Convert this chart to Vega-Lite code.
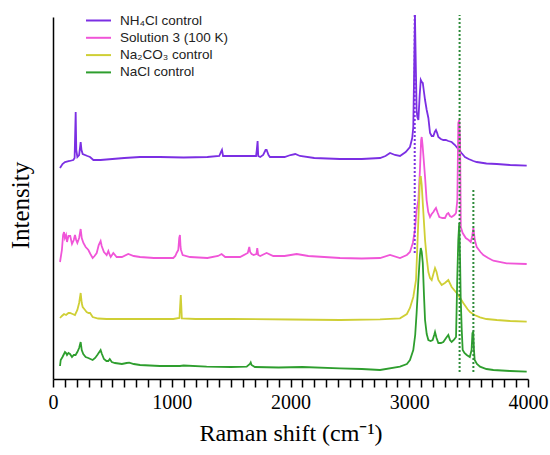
{
  "$schema": "https://vega.github.io/schema/vega-lite/v6.json",
  "width": 475,
  "height": 362,
  "autosize": {"type": "none"},
  "padding": {"left": 53, "top": 17, "right": 22, "bottom": 76},
  "background": "white",
  "config": {"view": {"stroke": null}, "font": "Liberation Serif", "axis": {"labelOverlap": false}},
  "datasets": {
    "spectra": [
      {"sample":"NH₄Cl control","shift":59,"intensity":211},{"sample":"NH₄Cl control","shift":80,"intensity":215},{"sample":"NH₄Cl control","shift":101,"intensity":217},{"sample":"NH₄Cl control","shift":140,"intensity":218},{"sample":"NH₄Cl control","shift":171,"intensity":219},{"sample":"NH₄Cl control","shift":182,"intensity":221},{"sample":"NH₄Cl control","shift":191,"intensity":267},{"sample":"NH₄Cl control","shift":196,"intensity":229},{"sample":"NH₄Cl control","shift":205,"intensity":222},{"sample":"NH₄Cl control","shift":220,"intensity":224},{"sample":"NH₄Cl control","shift":233,"intensity":237},{"sample":"NH₄Cl control","shift":240,"intensity":229},{"sample":"NH₄Cl control","shift":250,"intensity":225},{"sample":"NH₄Cl control","shift":290,"intensity":223},{"sample":"NH₄Cl control","shift":312,"intensity":222},{"sample":"NH₄Cl control","shift":340,"intensity":219},{"sample":"NH₄Cl control","shift":400,"intensity":219},{"sample":"NH₄Cl control","shift":500,"intensity":220},{"sample":"NH₄Cl control","shift":600,"intensity":221},{"sample":"NH₄Cl control","shift":733,"intensity":222},{"sample":"NH₄Cl control","shift":900,"intensity":222},{"sample":"NH₄Cl control","shift":1100,"intensity":221.5},{"sample":"NH₄Cl control","shift":1300,"intensity":222},{"sample":"NH₄Cl control","shift":1400,"intensity":223},{"sample":"NH₄Cl control","shift":1415,"intensity":227},{"sample":"NH₄Cl control","shift":1423,"intensity":229},{"sample":"NH₄Cl control","shift":1432,"intensity":223},{"sample":"NH₄Cl control","shift":1500,"intensity":223},{"sample":"NH₄Cl control","shift":1650,"intensity":223},{"sample":"NH₄Cl control","shift":1710,"intensity":223},{"sample":"NH₄Cl control","shift":1716,"intensity":229},{"sample":"NH₄Cl control","shift":1723,"intensity":238},{"sample":"NH₄Cl control","shift":1728,"intensity":223},{"sample":"NH₄Cl control","shift":1745,"intensity":222},{"sample":"NH₄Cl control","shift":1770,"intensity":224},{"sample":"NH₄Cl control","shift":1790,"intensity":229},{"sample":"NH₄Cl control","shift":1799,"intensity":229},{"sample":"NH₄Cl control","shift":1815,"intensity":224},{"sample":"NH₄Cl control","shift":1827,"intensity":222},{"sample":"NH₄Cl control","shift":1950,"intensity":222},{"sample":"NH₄Cl control","shift":2000,"intensity":224},{"sample":"NH₄Cl control","shift":2040,"intensity":225},{"sample":"NH₄Cl control","shift":2080,"intensity":223},{"sample":"NH₄Cl control","shift":2200,"intensity":221},{"sample":"NH₄Cl control","shift":2417,"intensity":220},{"sample":"NH₄Cl control","shift":2600,"intensity":220},{"sample":"NH₄Cl control","shift":2754,"intensity":221},{"sample":"NH₄Cl control","shift":2800,"intensity":223},{"sample":"NH₄Cl control","shift":2838,"intensity":226},{"sample":"NH₄Cl control","shift":2880,"intensity":224},{"sample":"NH₄Cl control","shift":2922,"intensity":223},{"sample":"NH₄Cl control","shift":2970,"intensity":227},{"sample":"NH₄Cl control","shift":3006,"intensity":232},{"sample":"NH₄Cl control","shift":3025,"intensity":241},{"sample":"NH₄Cl control","shift":3034,"intensity":252},{"sample":"NH₄Cl control","shift":3040,"intensity":299},{"sample":"NH₄Cl control","shift":3048,"intensity":364},{"sample":"NH₄Cl control","shift":3056,"intensity":309},{"sample":"NH₄Cl control","shift":3062,"intensity":269},{"sample":"NH₄Cl control","shift":3068,"intensity":262},{"sample":"NH₄Cl control","shift":3077,"intensity":259},{"sample":"NH₄Cl control","shift":3088,"intensity":284},{"sample":"NH₄Cl control","shift":3097,"intensity":299},{"sample":"NH₄Cl control","shift":3105,"intensity":297},{"sample":"NH₄Cl control","shift":3114,"intensity":296},{"sample":"NH₄Cl control","shift":3124,"intensity":287},{"sample":"NH₄Cl control","shift":3133,"intensity":279},{"sample":"NH₄Cl control","shift":3147,"intensity":269},{"sample":"NH₄Cl control","shift":3161,"intensity":261},{"sample":"NH₄Cl control","shift":3175,"intensity":246},{"sample":"NH₄Cl control","shift":3189,"intensity":243},{"sample":"NH₄Cl control","shift":3203,"intensity":243},{"sample":"NH₄Cl control","shift":3215,"intensity":247},{"sample":"NH₄Cl control","shift":3225,"intensity":249},{"sample":"NH₄Cl control","shift":3235,"intensity":246},{"sample":"NH₄Cl control","shift":3245,"intensity":242},{"sample":"NH₄Cl control","shift":3266,"intensity":240},{"sample":"NH₄Cl control","shift":3287,"intensity":239},{"sample":"NH₄Cl control","shift":3308,"intensity":239},{"sample":"NH₄Cl control","shift":3329,"intensity":238},{"sample":"NH₄Cl control","shift":3357,"intensity":237},{"sample":"NH₄Cl control","shift":3385,"intensity":234},{"sample":"NH₄Cl control","shift":3405,"intensity":231},{"sample":"NH₄Cl control","shift":3421,"intensity":229},{"sample":"NH₄Cl control","shift":3440,"intensity":226},{"sample":"NH₄Cl control","shift":3469,"intensity":222},{"sample":"NH₄Cl control","shift":3500,"intensity":220},{"sample":"NH₄Cl control","shift":3540,"intensity":218},{"sample":"NH₄Cl control","shift":3568,"intensity":217},{"sample":"NH₄Cl control","shift":3650,"intensity":215.5},{"sample":"NH₄Cl control","shift":3737,"intensity":215},{"sample":"NH₄Cl control","shift":3850,"intensity":214},{"sample":"NH₄Cl control","shift":3989,"intensity":213.3},

      {"sample":"Solution 3 (100 K)","shift":59,"intensity":117},{"sample":"Solution 3 (100 K)","shift":75,"intensity":129},{"sample":"Solution 3 (100 K)","shift":85,"intensity":144},{"sample":"Solution 3 (100 K)","shift":93,"intensity":147},{"sample":"Solution 3 (100 K)","shift":100,"intensity":141},{"sample":"Solution 3 (100 K)","shift":110,"intensity":144},{"sample":"Solution 3 (100 K)","shift":118,"intensity":137},{"sample":"Solution 3 (100 K)","shift":130,"intensity":143},{"sample":"Solution 3 (100 K)","shift":145,"intensity":143},{"sample":"Solution 3 (100 K)","shift":160,"intensity":135},{"sample":"Solution 3 (100 K)","shift":175,"intensity":139},{"sample":"Solution 3 (100 K)","shift":185,"intensity":144},{"sample":"Solution 3 (100 K)","shift":195,"intensity":139},{"sample":"Solution 3 (100 K)","shift":205,"intensity":136},{"sample":"Solution 3 (100 K)","shift":220,"intensity":141},{"sample":"Solution 3 (100 K)","shift":233,"intensity":150},{"sample":"Solution 3 (100 K)","shift":242,"intensity":141},{"sample":"Solution 3 (100 K)","shift":256,"intensity":136},{"sample":"Solution 3 (100 K)","shift":275,"intensity":132},{"sample":"Solution 3 (100 K)","shift":298,"intensity":129},{"sample":"Solution 3 (100 K)","shift":315,"intensity":125},{"sample":"Solution 3 (100 K)","shift":334,"intensity":121},{"sample":"Solution 3 (100 K)","shift":350,"intensity":123},{"sample":"Solution 3 (100 K)","shift":368,"intensity":126},{"sample":"Solution 3 (100 K)","shift":385,"intensity":134},{"sample":"Solution 3 (100 K)","shift":401,"intensity":138},{"sample":"Solution 3 (100 K)","shift":410,"intensity":133},{"sample":"Solution 3 (100 K)","shift":429,"intensity":127},{"sample":"Solution 3 (100 K)","shift":452,"intensity":124},{"sample":"Solution 3 (100 K)","shift":466,"intensity":128},{"sample":"Solution 3 (100 K)","shift":478,"intensity":124},{"sample":"Solution 3 (100 K)","shift":486,"intensity":122},{"sample":"Solution 3 (100 K)","shift":508,"intensity":126},{"sample":"Solution 3 (100 K)","shift":536,"intensity":122},{"sample":"Solution 3 (100 K)","shift":580,"intensity":122},{"sample":"Solution 3 (100 K)","shift":634,"intensity":125},{"sample":"Solution 3 (100 K)","shift":680,"intensity":123},{"sample":"Solution 3 (100 K)","shift":733,"intensity":122},{"sample":"Solution 3 (100 K)","shift":850,"intensity":121},{"sample":"Solution 3 (100 K)","shift":1013,"intensity":121},{"sample":"Solution 3 (100 K)","shift":1030,"intensity":123},{"sample":"Solution 3 (100 K)","shift":1041,"intensity":126},{"sample":"Solution 3 (100 K)","shift":1055,"intensity":129},{"sample":"Solution 3 (100 K)","shift":1063,"intensity":141},{"sample":"Solution 3 (100 K)","shift":1069,"intensity":144},{"sample":"Solution 3 (100 K)","shift":1074,"intensity":132},{"sample":"Solution 3 (100 K)","shift":1078,"intensity":129},{"sample":"Solution 3 (100 K)","shift":1092,"intensity":124},{"sample":"Solution 3 (100 K)","shift":1154,"intensity":122},{"sample":"Solution 3 (100 K)","shift":1300,"intensity":121},{"sample":"Solution 3 (100 K)","shift":1390,"intensity":123},{"sample":"Solution 3 (100 K)","shift":1420,"intensity":125},{"sample":"Solution 3 (100 K)","shift":1450,"intensity":122},{"sample":"Solution 3 (100 K)","shift":1575,"intensity":122},{"sample":"Solution 3 (100 K)","shift":1640,"intensity":126},{"sample":"Solution 3 (100 K)","shift":1653,"intensity":132},{"sample":"Solution 3 (100 K)","shift":1660,"intensity":127},{"sample":"Solution 3 (100 K)","shift":1673,"intensity":125},{"sample":"Solution 3 (100 K)","shift":1690,"intensity":124},{"sample":"Solution 3 (100 K)","shift":1713,"intensity":125},{"sample":"Solution 3 (100 K)","shift":1720,"intensity":131},{"sample":"Solution 3 (100 K)","shift":1728,"intensity":124},{"sample":"Solution 3 (100 K)","shift":1745,"intensity":123},{"sample":"Solution 3 (100 K)","shift":1780,"intensity":125},{"sample":"Solution 3 (100 K)","shift":1799,"intensity":126},{"sample":"Solution 3 (100 K)","shift":1855,"intensity":123},{"sample":"Solution 3 (100 K)","shift":1950,"intensity":123},{"sample":"Solution 3 (100 K)","shift":2052,"intensity":125},{"sample":"Solution 3 (100 K)","shift":2150,"intensity":123},{"sample":"Solution 3 (100 K)","shift":2417,"intensity":121},{"sample":"Solution 3 (100 K)","shift":2600,"intensity":120.5},{"sample":"Solution 3 (100 K)","shift":2754,"intensity":121},{"sample":"Solution 3 (100 K)","shift":2838,"intensity":124},{"sample":"Solution 3 (100 K)","shift":2922,"intensity":121},{"sample":"Solution 3 (100 K)","shift":2980,"intensity":124},{"sample":"Solution 3 (100 K)","shift":3006,"intensity":127},{"sample":"Solution 3 (100 K)","shift":3030,"intensity":136},{"sample":"Solution 3 (100 K)","shift":3048,"intensity":149},{"sample":"Solution 3 (100 K)","shift":3062,"intensity":169},{"sample":"Solution 3 (100 K)","shift":3077,"intensity":179},{"sample":"Solution 3 (100 K)","shift":3090,"intensity":209},{"sample":"Solution 3 (100 K)","shift":3100,"intensity":239},{"sample":"Solution 3 (100 K)","shift":3105,"intensity":242},{"sample":"Solution 3 (100 K)","shift":3112,"intensity":234},{"sample":"Solution 3 (100 K)","shift":3122,"intensity":219},{"sample":"Solution 3 (100 K)","shift":3133,"intensity":202},{"sample":"Solution 3 (100 K)","shift":3146,"intensity":179},{"sample":"Solution 3 (100 K)","shift":3160,"intensity":167},{"sample":"Solution 3 (100 K)","shift":3175,"intensity":162},{"sample":"Solution 3 (100 K)","shift":3189,"intensity":165},{"sample":"Solution 3 (100 K)","shift":3203,"intensity":167},{"sample":"Solution 3 (100 K)","shift":3213,"intensity":169},{"sample":"Solution 3 (100 K)","shift":3225,"intensity":171},{"sample":"Solution 3 (100 K)","shift":3240,"intensity":166},{"sample":"Solution 3 (100 K)","shift":3253,"intensity":162},{"sample":"Solution 3 (100 K)","shift":3280,"intensity":161},{"sample":"Solution 3 (100 K)","shift":3301,"intensity":161},{"sample":"Solution 3 (100 K)","shift":3317,"intensity":165},{"sample":"Solution 3 (100 K)","shift":3329,"intensity":166},{"sample":"Solution 3 (100 K)","shift":3343,"intensity":163},{"sample":"Solution 3 (100 K)","shift":3357,"intensity":162},{"sample":"Solution 3 (100 K)","shift":3380,"intensity":164},{"sample":"Solution 3 (100 K)","shift":3394,"intensity":166},{"sample":"Solution 3 (100 K)","shift":3405,"intensity":179},{"sample":"Solution 3 (100 K)","shift":3413,"intensity":256},{"sample":"Solution 3 (100 K)","shift":3421,"intensity":259},{"sample":"Solution 3 (100 K)","shift":3428,"intensity":239},{"sample":"Solution 3 (100 K)","shift":3434,"intensity":152},{"sample":"Solution 3 (100 K)","shift":3450,"intensity":146},{"sample":"Solution 3 (100 K)","shift":3476,"intensity":141},{"sample":"Solution 3 (100 K)","shift":3500,"intensity":139},{"sample":"Solution 3 (100 K)","shift":3518,"intensity":137},{"sample":"Solution 3 (100 K)","shift":3530,"intensity":143},{"sample":"Solution 3 (100 K)","shift":3540,"intensity":151},{"sample":"Solution 3 (100 K)","shift":3552,"intensity":139},{"sample":"Solution 3 (100 K)","shift":3568,"intensity":132},{"sample":"Solution 3 (100 K)","shift":3600,"intensity":127},{"sample":"Solution 3 (100 K)","shift":3624,"intensity":124},{"sample":"Solution 3 (100 K)","shift":3665,"intensity":121},{"sample":"Solution 3 (100 K)","shift":3708,"intensity":118.3},{"sample":"Solution 3 (100 K)","shift":3821,"intensity":115.7},{"sample":"Solution 3 (100 K)","shift":3989,"intensity":115},

      {"sample":"Na₂CO₃ control","shift":59,"intensity":61},{"sample":"Na₂CO₃ control","shift":75,"intensity":63},{"sample":"Na₂CO₃ control","shift":93,"intensity":65},{"sample":"Na₂CO₃ control","shift":110,"intensity":64},{"sample":"Na₂CO₃ control","shift":130,"intensity":66},{"sample":"Na₂CO₃ control","shift":143,"intensity":66},{"sample":"Na₂CO₃ control","shift":165,"intensity":65},{"sample":"Na₂CO₃ control","shift":185,"intensity":64},{"sample":"Na₂CO₃ control","shift":205,"intensity":69},{"sample":"Na₂CO₃ control","shift":220,"intensity":76},{"sample":"Na₂CO₃ control","shift":233,"intensity":86},{"sample":"Na₂CO₃ control","shift":242,"intensity":76},{"sample":"Na₂CO₃ control","shift":250,"intensity":72},{"sample":"Na₂CO₃ control","shift":270,"intensity":69},{"sample":"Na₂CO₃ control","shift":283,"intensity":67},{"sample":"Na₂CO₃ control","shift":300,"intensity":66},{"sample":"Na₂CO₃ control","shift":312,"intensity":66},{"sample":"Na₂CO₃ control","shift":334,"intensity":62},{"sample":"Na₂CO₃ control","shift":380,"intensity":60.5},{"sample":"Na₂CO₃ control","shift":452,"intensity":60},{"sample":"Na₂CO₃ control","shift":600,"intensity":60},{"sample":"Na₂CO₃ control","shift":800,"intensity":60},{"sample":"Na₂CO₃ control","shift":1013,"intensity":60},{"sample":"Na₂CO₃ control","shift":1065,"intensity":61},{"sample":"Na₂CO₃ control","shift":1071,"intensity":74},{"sample":"Na₂CO₃ control","shift":1076,"intensity":84},{"sample":"Na₂CO₃ control","shift":1080,"intensity":74},{"sample":"Na₂CO₃ control","shift":1085,"intensity":60.5},{"sample":"Na₂CO₃ control","shift":1200,"intensity":60},{"sample":"Na₂CO₃ control","shift":1500,"intensity":60},{"sample":"Na₂CO₃ control","shift":2000,"intensity":59.5},{"sample":"Na₂CO₃ control","shift":2417,"intensity":59},{"sample":"Na₂CO₃ control","shift":2754,"intensity":59.7},{"sample":"Na₂CO₃ control","shift":2922,"intensity":60.7},{"sample":"Na₂CO₃ control","shift":2980,"intensity":65},{"sample":"Na₂CO₃ control","shift":3006,"intensity":71},{"sample":"Na₂CO₃ control","shift":3034,"intensity":82},{"sample":"Na₂CO₃ control","shift":3057,"intensity":99},{"sample":"Na₂CO₃ control","shift":3068,"intensity":132},{"sample":"Na₂CO₃ control","shift":3080,"intensity":169},{"sample":"Na₂CO₃ control","shift":3090,"intensity":201},{"sample":"Na₂CO₃ control","shift":3097,"intensity":203},{"sample":"Na₂CO₃ control","shift":3105,"intensity":194},{"sample":"Na₂CO₃ control","shift":3115,"intensity":174},{"sample":"Na₂CO₃ control","shift":3133,"intensity":139},{"sample":"Na₂CO₃ control","shift":3147,"intensity":121},{"sample":"Na₂CO₃ control","shift":3161,"intensity":107},{"sample":"Na₂CO₃ control","shift":3175,"intensity":101},{"sample":"Na₂CO₃ control","shift":3189,"intensity":99},{"sample":"Na₂CO₃ control","shift":3203,"intensity":105},{"sample":"Na₂CO₃ control","shift":3217,"intensity":111},{"sample":"Na₂CO₃ control","shift":3230,"intensity":107},{"sample":"Na₂CO₃ control","shift":3245,"intensity":99},{"sample":"Na₂CO₃ control","shift":3273,"intensity":94},{"sample":"Na₂CO₃ control","shift":3300,"intensity":96},{"sample":"Na₂CO₃ control","shift":3329,"intensity":99},{"sample":"Na₂CO₃ control","shift":3357,"intensity":92},{"sample":"Na₂CO₃ control","shift":3385,"intensity":88},{"sample":"Na₂CO₃ control","shift":3413,"intensity":84},{"sample":"Na₂CO₃ control","shift":3455,"intensity":76},{"sample":"Na₂CO₃ control","shift":3490,"intensity":70},{"sample":"Na₂CO₃ control","shift":3512,"intensity":67},{"sample":"Na₂CO₃ control","shift":3550,"intensity":64},{"sample":"Na₂CO₃ control","shift":3596,"intensity":61.7},{"sample":"Na₂CO₃ control","shift":3650,"intensity":60},{"sample":"Na₂CO₃ control","shift":3737,"intensity":59},{"sample":"Na₂CO₃ control","shift":3850,"intensity":58},{"sample":"Na₂CO₃ control","shift":3989,"intensity":57.3},

      {"sample":"NaCl control","shift":59,"intensity":13},{"sample":"NaCl control","shift":65,"intensity":19},{"sample":"NaCl control","shift":80,"intensity":22},{"sample":"NaCl control","shift":101,"intensity":27},{"sample":"NaCl control","shift":110,"intensity":26},{"sample":"NaCl control","shift":118,"intensity":24},{"sample":"NaCl control","shift":130,"intensity":26},{"sample":"NaCl control","shift":143,"intensity":25},{"sample":"NaCl control","shift":160,"intensity":22},{"sample":"NaCl control","shift":175,"intensity":24},{"sample":"NaCl control","shift":190,"intensity":24},{"sample":"NaCl control","shift":205,"intensity":27},{"sample":"NaCl control","shift":220,"intensity":31},{"sample":"NaCl control","shift":233,"intensity":37},{"sample":"NaCl control","shift":242,"intensity":29},{"sample":"NaCl control","shift":255,"intensity":25},{"sample":"NaCl control","shift":275,"intensity":22},{"sample":"NaCl control","shift":297,"intensity":21},{"sample":"NaCl control","shift":315,"intensity":20},{"sample":"NaCl control","shift":334,"intensity":19},{"sample":"NaCl control","shift":355,"intensity":21},{"sample":"NaCl control","shift":373,"intensity":24},{"sample":"NaCl control","shift":390,"intensity":27},{"sample":"NaCl control","shift":401,"intensity":29},{"sample":"NaCl control","shift":412,"intensity":25},{"sample":"NaCl control","shift":429,"intensity":20},{"sample":"NaCl control","shift":450,"intensity":18},{"sample":"NaCl control","shift":466,"intensity":18},{"sample":"NaCl control","shift":478,"intensity":20},{"sample":"NaCl control","shift":495,"intensity":17},{"sample":"NaCl control","shift":522,"intensity":16},{"sample":"NaCl control","shift":580,"intensity":15},{"sample":"NaCl control","shift":620,"intensity":16},{"sample":"NaCl control","shift":642,"intensity":16.3},{"sample":"NaCl control","shift":680,"intensity":15},{"sample":"NaCl control","shift":733,"intensity":14},{"sample":"NaCl control","shift":900,"intensity":13},{"sample":"NaCl control","shift":1069,"intensity":13},{"sample":"NaCl control","shift":1100,"intensity":13.5},{"sample":"NaCl control","shift":1294,"intensity":12.3},{"sample":"NaCl control","shift":1500,"intensity":12},{"sample":"NaCl control","shift":1631,"intensity":12.3},{"sample":"NaCl control","shift":1658,"intensity":15},{"sample":"NaCl control","shift":1665,"intensity":16.5},{"sample":"NaCl control","shift":1672,"intensity":14},{"sample":"NaCl control","shift":1700,"intensity":12},{"sample":"NaCl control","shift":1900,"intensity":11.5},{"sample":"NaCl control","shift":2100,"intensity":12},{"sample":"NaCl control","shift":2417,"intensity":10.7},{"sample":"NaCl control","shift":2600,"intensity":10},{"sample":"NaCl control","shift":2754,"intensity":9},{"sample":"NaCl control","shift":2922,"intensity":12.3},{"sample":"NaCl control","shift":2980,"intensity":15},{"sample":"NaCl control","shift":3006,"intensity":19},{"sample":"NaCl control","shift":3034,"intensity":29},{"sample":"NaCl control","shift":3050,"intensity":44},{"sample":"NaCl control","shift":3062,"intensity":66},{"sample":"NaCl control","shift":3077,"intensity":99},{"sample":"NaCl control","shift":3090,"intensity":124},{"sample":"NaCl control","shift":3097,"intensity":131},{"sample":"NaCl control","shift":3105,"intensity":127},{"sample":"NaCl control","shift":3114,"intensity":116},{"sample":"NaCl control","shift":3124,"intensity":84},{"sample":"NaCl control","shift":3133,"intensity":59},{"sample":"NaCl control","shift":3147,"intensity":45},{"sample":"NaCl control","shift":3161,"intensity":39},{"sample":"NaCl control","shift":3180,"intensity":38},{"sample":"NaCl control","shift":3197,"intensity":39},{"sample":"NaCl control","shift":3210,"intensity":44},{"sample":"NaCl control","shift":3217,"intensity":47},{"sample":"NaCl control","shift":3230,"intensity":41},{"sample":"NaCl control","shift":3245,"intensity":36},{"sample":"NaCl control","shift":3266,"intensity":36},{"sample":"NaCl control","shift":3287,"intensity":37},{"sample":"NaCl control","shift":3310,"intensity":41},{"sample":"NaCl control","shift":3329,"intensity":44},{"sample":"NaCl control","shift":3343,"intensity":39},{"sample":"NaCl control","shift":3357,"intensity":37},{"sample":"NaCl control","shift":3375,"intensity":39},{"sample":"NaCl control","shift":3394,"intensity":42},{"sample":"NaCl control","shift":3404,"intensity":99},{"sample":"NaCl control","shift":3413,"intensity":139},{"sample":"NaCl control","shift":3421,"intensity":156},{"sample":"NaCl control","shift":3428,"intensity":119},{"sample":"NaCl control","shift":3433,"intensity":82},{"sample":"NaCl control","shift":3442,"intensity":49},{"sample":"NaCl control","shift":3450,"intensity":29},{"sample":"NaCl control","shift":3465,"intensity":26},{"sample":"NaCl control","shift":3484,"intensity":24},{"sample":"NaCl control","shift":3510,"intensity":22},{"sample":"NaCl control","shift":3525,"intensity":29},{"sample":"NaCl control","shift":3532,"intensity":46},{"sample":"NaCl control","shift":3539,"intensity":47},{"sample":"NaCl control","shift":3545,"intensity":29},{"sample":"NaCl control","shift":3551,"intensity":19},{"sample":"NaCl control","shift":3570,"intensity":15},{"sample":"NaCl control","shift":3596,"intensity":12.3},{"sample":"NaCl control","shift":3650,"intensity":10},{"sample":"NaCl control","shift":3708,"intensity":9},{"sample":"NaCl control","shift":3850,"intensity":8},{"sample":"NaCl control","shift":3989,"intensity":7.3}
    ],
    "markers": [
      {"band": "NH4Cl", "shift": 3046, "intensity": 126, "high": 366},
      {"band": "water", "shift": 3424, "intensity": 7, "high": 364},
      {"band": "water", "shift": 3540, "intensity": 7, "high": 191}
    ]
  },
  "encoding": {
    "x": {
      "field": "shift", "type": "quantitative",
      "scale": {"domain": [0, 4000], "nice": false},
      "axis": {
        "title": "Raman shift (cm⁻¹)",
        "values": [0,100,200,300,400,500,600,700,800,900,1000,1100,1200,1300,1400,1500,1600,1700,1800,1900,2000,2100,2200,2300,2400,2500,2600,2700,2800,2900,3000,3100,3200,3300,3400,3500,3600,3700,3800,3900,4000],
        "format": "d",
        "labelExpr": "datum.value % 1000 === 0 ? datum.label : ''",
        "grid": false,
        "tickSize": 8, "tickWidth": 1.5, "tickColor": "black",
        "domainColor": "black", "domainWidth": 1.5,
        "labelFont": "Liberation Serif", "labelFontSize": 20, "labelColor": "black", "labelPadding": 5,
        "labelFlush": false, "labelOverlap": false, "labelBound": false,
        "titleFont": "Liberation Serif", "titleFontSize": 24, "titleFontWeight": "normal", "titleColor": "black", "titlePadding": 9
      }
    },
    "y": {
      "field": "intensity", "type": "quantitative",
      "scale": {"domain": [0, 362], "nice": false, "zero": false},
      "axis": {
        "title": "Intensity", "ticks": false, "labels": false, "grid": false,
        "domainColor": "black", "domainWidth": 1.5,
        "titleFont": "Liberation Serif", "titleFontSize": 25, "titleFontWeight": "normal", "titleColor": "black", "titlePadding": 20,
        "titleY": 188
      }
    }
  },
  "layer": [
    {
      "data": {"name": "spectra"},
      "mark": {"type": "line", "strokeWidth": 1.8},
      "encoding": {
        "color": {
          "field": "sample", "type": "nominal",
          "scale": {
            "domain": ["NH₄Cl control", "Solution 3 (100 K)", "Na₂CO₃ control", "NaCl control"],
            "range": ["#7B2FE3", "#F055D8", "#CFCF35", "#2E9E2E"]
          },
          "legend": {
            "orient": "none", "legendX": 38, "legendY": -4, "title": null, "padding": 0,
            "symbolType": "M-2,0H2", "symbolSize": 156, "symbolStrokeWidth": 2,
            "labelFont": "Liberation Sans", "labelFontSize": 13.5, "labelColor": "#222222",
            "labelOffset": 14, "rowPadding": 3.3
          }
        }
      }
    },
    {
      "data": {"name": "markers"},
      "transform": [{"filter": "datum.band == 'NH4Cl'"}],
      "mark": {"type": "rule", "color": "#7B2FE3", "strokeWidth": 2, "strokeDash": [2, 2]},
      "encoding": {"y2": {"field": "high"}}
    },
    {
      "data": {"name": "markers"},
      "transform": [{"filter": "datum.band == 'water'"}],
      "mark": {"type": "rule", "color": "#2E8B3A", "strokeWidth": 2, "strokeDash": [2, 2]},
      "encoding": {"y2": {"field": "high"}}
    }
  ]
}
